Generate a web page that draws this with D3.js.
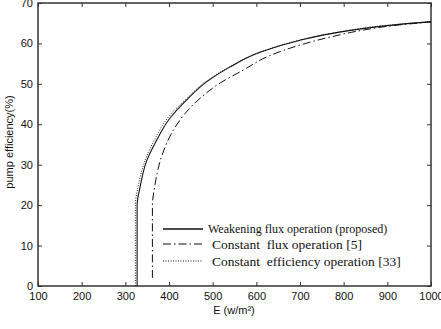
<!DOCTYPE html>
<html><head><meta charset="utf-8">
<script src="https://cdn.jsdelivr.net/npm/d3@7"></script>
<style>body{margin:0;background:#fff}svg{display:block}</style>
</head><body>
<script>
const xTicks = [100,200,300,400,500,600,700,800,900,1000];
const yTicks = [0,10,20,30,40,50,60,70];
const weakeningE   = [327,327,334,349,368,402,440,486,540,608,700,790,900,1000];
const weakeningEff = [0,20,24.6,31,35.3,41.5,46,50.5,54.2,57.8,60.8,62.8,64.4,65.4];
const constFluxE   = [362,362,367,383,406,437,475,517,570,631,700,770,845,920,1000];
const constFluxEff = [2,20,24.5,32,37.8,42.7,46.8,50.2,53.4,57,59.6,61.6,63.3,64.5,65.3];
const constEffE    = [323,323,330,345,365,400,440,486,540,608,700,800,900,1000];
const constEffEff  = [0,20,25,31,35.8,42,46.3,50.7,54.3,57.8,60.8,63,64.5,65.4];
const legendLabels = ["Weakening flux operation (proposed)","Constant  flux operation [5]","Constant  efficiency operation [33]"];

const W=441,H=329, L=38,R=431,T=3,B=286;
const svg=d3.select("body").append("svg").attr("width",W).attr("height",H);
const x=d3.scaleLinear().domain([100,1000]).range([L,R]);
const y=d3.scaleLinear().domain([0,70]).range([B,T]);
const axisColor="#333";
const tickFont="Liberation Sans, Arial, sans-serif";

function styleAxis(g,showText){
  g.select(".domain").remove();
  g.selectAll("line").attr("stroke",axisColor).attr("stroke-width",1);
  g.selectAll("text").attr("font-family",tickFont).attr("font-size",11).attr("fill","#111");
  if(!showText) g.selectAll("text").remove();
}
svg.append("g").attr("transform",`translate(0,${B})`)
  .call(d3.axisBottom(x).tickValues(xTicks).tickSizeInner(-4).tickSizeOuter(0).tickPadding(6).tickFormat(d3.format("d")))
  .call(g=>styleAxis(g,true));
svg.append("g").attr("transform",`translate(0,${T})`)
  .call(d3.axisTop(x).tickValues(xTicks).tickSizeInner(-4).tickSizeOuter(0))
  .call(g=>styleAxis(g,false));
svg.append("g").attr("transform",`translate(${L},0)`)
  .call(d3.axisLeft(y).tickValues(yTicks).tickSizeInner(-4).tickSizeOuter(0).tickPadding(5))
  .call(g=>styleAxis(g,true));
svg.append("g").attr("transform",`translate(${R},0)`)
  .call(d3.axisRight(y).tickValues(yTicks).tickSizeInner(-4).tickSizeOuter(0))
  .call(g=>styleAxis(g,false));
svg.append("rect").attr("x",L).attr("y",T).attr("width",R-L).attr("height",B-T)
  .attr("fill","none").attr("stroke",axisColor).attr("stroke-width",1.5);

const line=d3.line().x(d=>x(d[0])).y(d=>y(d[1])).curve(d3.curveMonotoneY);
const series=[
  {E:weakeningE,V:weakeningEff,dash:null,w:1.1},
  {E:constFluxE,V:constFluxEff,dash:"8,3,1.5,3",w:1},
  {E:constEffE,V:constEffEff,dash:"1,1.5",w:0.9}
];
series.forEach(s=>{
  svg.append("path").datum(d3.zip(s.E,s.V)).attr("d",line)
    .attr("fill","none").attr("stroke","#111").attr("stroke-width",s.w)
    .attr("stroke-dasharray",s.dash);
});

// legend
const legY=[229,244,261], legTx=[208,212,212], legFs=[12,13.5,13.5];
series.forEach((s,i)=>{
  svg.append("line").attr("x1",163).attr("x2",203).attr("y1",legY[i]).attr("y2",legY[i])
    .attr("stroke","#111").attr("stroke-width",s.w+0.2).attr("stroke-dasharray",s.dash);
  svg.append("text").attr("x",legTx[i]).attr("y",legY[i]).attr("dy","0.35em")
    .attr("font-family","Liberation Serif, Times New Roman, serif").attr("font-size",legFs[i])
    .attr("fill","#111").style("white-space","pre").text(legendLabels[i]);
});

svg.append("text").attr("x",234).attr("y",314).attr("text-anchor","middle")
  .attr("font-family",tickFont).attr("font-size",11).attr("fill","#111").text("E (w/m²)");
svg.append("text").attr("transform","translate(13,142) rotate(-90)").attr("text-anchor","middle")
  .attr("font-family",tickFont).attr("font-size",11).attr("fill","#111").text("pump efficiency(%)");
</script>
</body></html>
